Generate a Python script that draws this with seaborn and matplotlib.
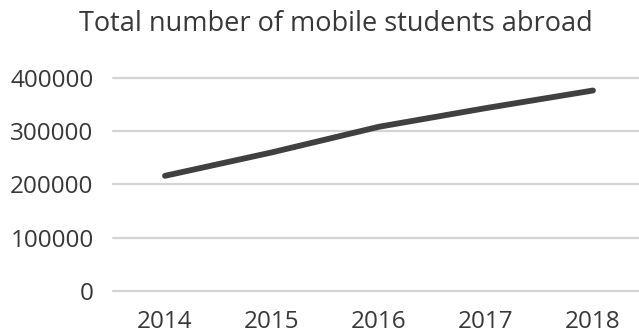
import matplotlib
matplotlib.use("Agg")
import matplotlib.pyplot as plt
import seaborn as sns
import pandas as pd

years = [2014, 2015, 2016, 2017, 2018]
students = [216000, 260000, 308000, 343000, 376000]
yticks = [0, 100000, 200000, 300000, 400000]
title = "Total number of mobile students abroad"

sns.set_theme(style="white")
plt.rcParams['font.family'] = ['Open Sans', 'DejaVu Sans']

df = pd.DataFrame({"year": years, "students": students})

fig = plt.figure(figsize=(6.39, 3.36), dpi=100)
ax = fig.add_axes([113/639, 1 - 291/336, 1 - 113/639, (291 - 77.7)/336])

for y in yticks:
    ax.axhline(y, color="#d4d4d4", lw=1.6, zorder=0, clip_on=False)

sns.lineplot(data=df, x="year", y="students", ax=ax, color="#404040",
             lw=4.2, solid_capstyle="round", clip_on=False)

ax.set_xlim(2013.514, 2018.43)
ax.set_ylim(0, 400000)
ax.set_xticks(years)
ax.set_xticklabels([str(y) for y in years])
ax.set_yticks(yticks)
ax.set_yticklabels([str(v) for v in yticks])
ax.tick_params(axis="both", length=0, labelsize=17.5, colors="#383838")
ax.tick_params(axis="y", pad=14)
ax.tick_params(axis="x", pad=13.5)
ax.set_xlabel("")
ax.set_ylabel("")
for s in ax.spines.values():
    s.set_visible(False)

fig.text(336/639, 1 - 31/336, title, ha="center", va="baseline",
         fontsize=19.5, color="#383838")

fig.savefig("out.png", dpi=100, facecolor="white")
